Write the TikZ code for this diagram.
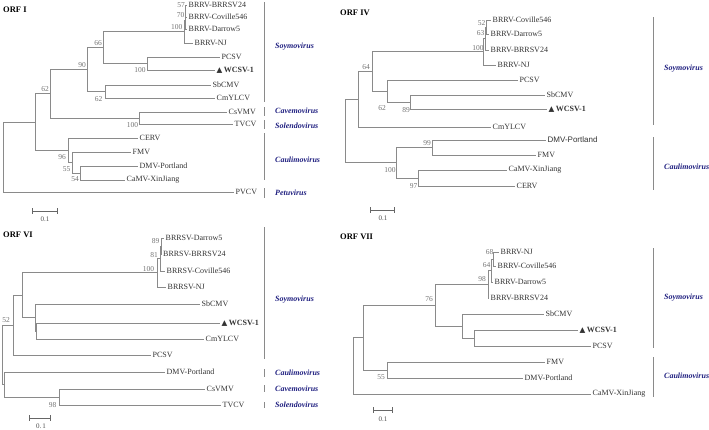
\documentclass[tikz,border=0pt]{standalone}
\usepackage{fontspec}
\setmainfont{Liberation Serif}
\newfontfamily\arialfont{Liberation Sans}
\newfontfamily\symfont{DejaVu Sans}
\usetikzlibrary{positioning}
\definecolor{genusblue}{RGB}{32,32,128}
\definecolor{branchgray}{RGB}{138,138,138}
\newcommand*{\wcsv}{{\symfont\fontsize{7.5}{8}\selectfont ▲}\,\textbf{WCSV-1}}

\begin{document}
\begin{tikzpicture}[x=1pt,y=-1pt,
  branch/.style={draw=branchgray,line width=0.75pt},
  leaf/.style={anchor=west,inner sep=1.5pt,text=black!80,font=\fontsize{8}{9}\selectfont},
  boot/.style={inner sep=0pt,text=black!55,font=\fontsize{7.5}{9}\selectfont},
  genus/.style={anchor=west,inner sep=0pt,text=genusblue,font=\fontsize{8}{9}\selectfont\bfseries\itshape},
  orf/.style={anchor=west,inner sep=0pt,font=\fontsize{8.5}{10}\selectfont\bfseries},
  sbar/.style={draw=black!60,line width=0.6pt,|-|},
  slab/.style={inner sep=0pt,text=black!70,font=\fontsize{7}{8}\selectfont}]
\useasboundingbox (0,0) rectangle (709,429);

% ---------------- ORF I ----------------
\node[orf] (Atitle) at (3,10) {ORF I};
% leaves
\node[leaf] (Abrrsv) at (187,5) {BRRV-BRRSV24};
\node[leaf] (Acov) at (187,17) {BRRV-Coville546};
\node[leaf] (Adar) at (187,29) {BRRV-Darrow5};
\node[leaf] (Anj) at (193,43) {BRRV-NJ};
\node[leaf] (Apcsv) at (220,57) {PCSV};
\node[leaf] (Awcsv) at (215,70) {\wcsv};
\node[leaf] (Asbc) at (211,85) {SbCMV};
\node[leaf] (Acmy) at (215,98) {CmYLCV};
\node[leaf] (Acsv) at (227,112) {CsVMV};
\node[leaf] (Atvcv) at (233,124) {TVCV};
\node[leaf] (Acerv) at (138,138) {CERV};
\node[leaf] (Afmv) at (131,152) {FMV};
\node[leaf] (Admv) at (138,166) {DMV-Portland};
\node[leaf] (Acamv) at (125,180) {CaMV-XinJiang};
\node[leaf] (Apvcv) at (234,192) {PVCV};
% inner nodes
\coordinate (Aa1) at (185.5,11);
\coordinate (Aa2) at (185,20);
\coordinate (Aa3) at (184,31.5);
\coordinate (Ae) at (147,63.5);
\coordinate (Ad) at (103,47.5);
\coordinate (Af) at (105,91.5);
\coordinate (Ac) at (87,69.5);
\coordinate (Ag) at (139,118);
\coordinate (Ab) at (50,93.75);
\coordinate (Ai) at (80,173);
\coordinate (Ah) at (72,162.5);
\coordinate (Ak) at (68,150.25);
\coordinate (Aa) at (35,122);
\coordinate (Ar) at (3,157);
\draw[branch] (Aa1) |- (Abrrsv.west) (Aa1) |- (Acov.west)
  (Aa2) |- (Aa1) (Aa2) |- (Adar.west)
  (Aa3) |- (Aa2) (Aa3) |- (Anj.west)
  (Ae) |- (Apcsv.west) (Ae) |- (Awcsv.west)
  (Ad) |- (Aa3) (Ad) |- (Ae)
  (Af) |- (Asbc.west) (Af) |- (Acmy.west)
  (Ac) |- (Ad) (Ac) |- (Af)
  (Ag) |- (Acsv.west) (Ag) |- (Atvcv.west)
  (Ab) |- (Ac) (Ab) |- (Ag)
  (Ai) |- (Admv.west) (Ai) |- (Acamv.west)
  (Ah) |- (Afmv.west) (Ah) |- (Ai)
  (Ak) |- (Acerv.west) (Ak) |- (Ah)
  (Aa) |- (Ab) (Aa) |- (Ak)
  (Ar) |- (Aa) (Ar) |- (Apvcv.west);
% bootstrap values
\node[boot] (Ab57) at (181,5) {57};
\node[boot] (Ab70) at (180.5,15.3) {70};
\node[boot] (Ab100a) at (176.7,26.7) {100};
\node[boot] (Ab66) at (98,43) {66};
\node[boot] (Ab90) at (82,65) {90};
\node[boot] (Ab100b) at (140,70) {100};
\node[boot] (Ab62a) at (98.7,99.3) {62};
\node[boot] (Ab62b) at (45,89) {62};
\node[boot] (Ab100c) at (132.5,125) {100};
\node[boot] (Ab96) at (62,156.7) {96};
\node[boot] (Ab55) at (66.7,169) {55};
\node[boot] (Ab54) at (75,179) {54};
% genera
\draw[branch] (264,2) -- (264,102) (264,107) -- (264,116) (264,120) -- (264,129)
  (264,133) -- (264,180) (264,188) -- (264,198);
\node[genus] (Agsoy) at (275,47) {Soymovirus};
\node[genus] (Agcave) at (275,111) {Cavemovirus};
\node[genus] (Agsol) at (275,126) {Solendovirus};
\node[genus] (Agcau) at (275,160) {Caulimovirus};
\node[genus] (Agpet) at (275,193) {Petuvirus};
% scale
\coordinate (Asl) at (32,211);
\coordinate (Asr) at (58,211);
\draw[sbar] (Asl) -- (Asr);
\node[slab] (Aslab) at (45,219.5) {0.1};

% ---------------- ORF IV ----------------
\node[orf] (Btitle) at (340,13) {ORF IV};
\node[leaf] (Bcov) at (491,20) {BRRV-Coville546};
\node[leaf] (Bdar) at (489,34) {BRRV-Darrow5};
\node[leaf] (Bbrrsv) at (489,50) {BRRV-BRRSV24};
\node[leaf] (Bnj) at (496,65) {BRRV-NJ};
\node[leaf] (Bpcsv) at (518,80) {PCSV};
\node[leaf] (Bsbc) at (545,95) {SbCMV};
\node[leaf] (Bwcsv) at (547,109) {\wcsv};
\node[leaf] (Bcmy) at (491,127) {CmYLCV};
\node[leaf] (Bdmv) at (546,140) {\arialfont DMV-Portland};
\node[leaf] (Bfmv) at (536,155) {FMV};
\node[leaf] (Bcamv) at (507,170) {CaMV-XinJiang};
\node[leaf] (Bcerv) at (515,186) {CERV};
\coordinate (Bc1) at (486,27);
\coordinate (Bc2) at (485,38.5);
\coordinate (Bc3) at (483,51.75);
\coordinate (Bn4) at (410,102.5);
\coordinate (Bn3) at (387,91.25);
\coordinate (Bn2) at (372,71.5);
\coordinate (Bn1) at (358,99.25);
\coordinate (Bk1) at (432,147.5);
\coordinate (Bk2) at (418,178);
\coordinate (Bk0) at (396,162.75);
\coordinate (Br) at (345,131);
\draw[branch] (Bc1) |- (Bcov.west) (Bc1) |- (Bdar.west)
  (Bc2) |- (Bc1) (Bc2) |- (Bbrrsv.west)
  (Bc3) |- (Bc2) (Bc3) |- (Bnj.west)
  (Bn4) |- (Bsbc.west) (Bn4) |- (Bwcsv.west)
  (Bn3) |- (Bpcsv.west) (Bn3) |- (Bn4)
  (Bn2) |- (Bc3) (Bn2) |- (Bn3)
  (Bn1) |- (Bn2) (Bn1) |- (Bcmy.west)
  (Bk1) |- (Bdmv.west) (Bk1) |- (Bfmv.west)
  (Bk2) |- (Bcamv.west) (Bk2) |- (Bcerv.west)
  (Bk0) |- (Bk1) (Bk0) |- (Bk2)
  (Br) |- (Bn1) (Br) |- (Bk0);
\node[boot] (Bb52) at (481.5,22.7) {52};
\node[boot] (Bb63) at (480.5,33.3) {63};
\node[boot] (Bb100a) at (478,47.7) {100};
\node[boot] (Bb64) at (366,66.7) {64};
\node[boot] (Bb62) at (382,108.3) {62};
\node[boot] (Bb89) at (406,110) {89};
\node[boot] (Bb99) at (427,143) {99};
\node[boot] (Bb100b) at (390,170) {100};
\node[boot] (Bb97) at (413.7,186) {97};
\draw[branch] (653,17) -- (653,125) (653,137) -- (653,190);
\node[genus] (Bgsoy) at (664,69) {Soymovirus};
\node[genus] (Bgcau) at (664,167) {Caulimovirus};
\coordinate (Bsl) at (370,210);
\coordinate (Bsr) at (395,210);
\draw[sbar] (Bsl) -- (Bsr);
\node[slab] (Bslab) at (383,218.5) {0.1};

% ---------------- ORF VI ----------------
\node[orf] (Ctitle) at (3,235) {ORF VI};
\node[leaf] (Cdar) at (164,238) {BRRSV-Darrow5};
\node[leaf] (Cbrrsv) at (161.5,254) {BRRSV-BRRSV24};
\node[leaf] (Ccov) at (165,271) {BRRSV-Coville546};
\node[leaf] (Cnj) at (166,287) {BRRSV-NJ};
\node[leaf] (Csbc) at (200,304) {SbCMV};
\node[leaf] (Cwcsv) at (220,323) {\wcsv};
\node[leaf] (Ccmy) at (204,339) {CmYLCV};
\node[leaf] (Cpcsv) at (151,355) {PCSV};
\node[leaf] (Cdmv) at (165,372) {DMV-Portland};
\node[leaf] (Ccsv) at (205,389) {CsVMV};
\node[leaf] (Ctvcv) at (221,405) {TVCV};
\coordinate (Cb1) at (161,246);
\coordinate (Cb2) at (160,258.5);
\coordinate (Cb3) at (157,272.75);
\coordinate (Ct) at (36,331);
\coordinate (Cs) at (35,317.5);
\coordinate (Cu) at (22,295.1);
\coordinate (Cv) at (13,325);
\coordinate (Cy) at (59,397);
\coordinate (Cx) at (4,384.5);
\coordinate (Cr) at (2,354.8);
\draw[branch] (Cb1) |- (Cdar.west) (Cb1) |- (Cbrrsv.west)
  (Cb2) |- (Cb1) (Cb2) |- (Ccov.west)
  (Cb3) |- (Cb2) (Cb3) |- (Cnj.west)
  (Ct) |- (Cwcsv.west) (Ct) |- (Ccmy.west)
  (Cs) |- (Csbc.west) (Cs) |- (Ct)
  (Cu) |- (Cb3) (Cu) |- (Cs)
  (Cv) |- (Cu) (Cv) |- (Cpcsv.west)
  (Cy) |- (Ccsv.west) (Cy) |- (Ctvcv.west)
  (Cx) |- (Cdmv.west) (Cx) |- (Cy)
  (Cr) |- (Cv) (Cr) |- (Cx);
\node[boot] (Cb89) at (155.5,241) {89};
\node[boot] (Cb81) at (154,255) {81};
\node[boot] (Cb100) at (148.5,269) {100};
\node[boot] (Cb52) at (6,320) {52};
\node[boot] (Cb98) at (52.5,405) {98};
\draw[branch] (264,227) -- (264,359) (264,369) -- (264,377) (264,385) -- (264,392)
  (264,402) -- (264,408);
\node[genus] (Cgsoy) at (275,300) {Soymovirus};
\node[genus] (Cgcau) at (275,373) {Caulimovirus};
\node[genus] (Cgcave) at (275,389) {Cavemovirus};
\node[genus] (Cgsol) at (275,405) {Solendovirus};
\coordinate (Csl) at (29,418);
\coordinate (Csr) at (51,418);
\draw[sbar] (Csl) -- (Csr);
\node[slab] (Cslab) at (41,426) {0.\,1};

% ---------------- ORF VII ----------------
\node[orf] (Dtitle) at (340,237) {ORF VII};
\node[leaf] (Dnj) at (499,252) {BRRV-NJ};
\node[leaf] (Dcov) at (496,266) {BRRV-Coville546};
\node[leaf] (Ddar) at (493,282) {BRRV-Darrow5};
\node[leaf] (Dbrrsv) at (489,298) {BRRV-BRRSV24};
\node[leaf] (Dsbc) at (544,314) {SbCMV};
\node[leaf] (Dwcsv) at (578,330) {\wcsv};
\node[leaf] (Dpcsv) at (591,346) {PCSV};
\node[leaf] (Dfmv) at (545,362) {FMV};
\node[leaf] (Ddmv) at (523,378) {DMV-Portland};
\node[leaf] (Dcamv) at (591,394) {CaMV-XinJiang};
\coordinate (Dd1) at (493,259);
\coordinate (Dd2) at (491,270.5);
\coordinate (Dd3) at (488,284.25);
\coordinate (De2) at (474,338);
\coordinate (De1) at (462,326);
\coordinate (Df) at (435,305.1);
\coordinate (Dg) at (387,370);
\coordinate (Da) at (363,337.5);
\coordinate (Dr) at (353,365.7);
\draw[branch] (Dd1) |- (Dnj.west) (Dd1) |- (Dcov.west)
  (Dd2) |- (Dd1) (Dd2) |- (Ddar.west)
  (Dd3) |- (Dd2) (Dd3) |- (Dbrrsv.west)
  (De2) |- (Dwcsv.west) (De2) |- (Dpcsv.west)
  (De1) |- (Dsbc.west) (De1) |- (De2)
  (Df) |- (Dd3) (Df) |- (De1)
  (Dg) |- (Dfmv.west) (Dg) |- (Ddmv.west)
  (Da) |- (Df) (Da) |- (Dg)
  (Dr) |- (Da) (Dr) |- (Dcamv.west);
\node[boot] (Db68) at (489.5,252) {68};
\node[boot] (Db64) at (486.5,265) {64};
\node[boot] (Db98) at (482,279) {98};
\node[boot] (Db76) at (429,299) {76};
\node[boot] (Db55) at (381,377) {55};
\draw[branch] (653,248) -- (653,348) (653,357) -- (653,397);
\node[genus] (Dgsoy) at (664,298) {Soymovirus};
\node[genus] (Dgcau) at (664,376) {Caulimovirus};
\coordinate (Dsl) at (373,410);
\coordinate (Dsr) at (393,410);
\draw[sbar] (Dsl) -- (Dsr);
\node[slab] (Dslab) at (383,419) {0.1};
\end{tikzpicture}
\end{document}
